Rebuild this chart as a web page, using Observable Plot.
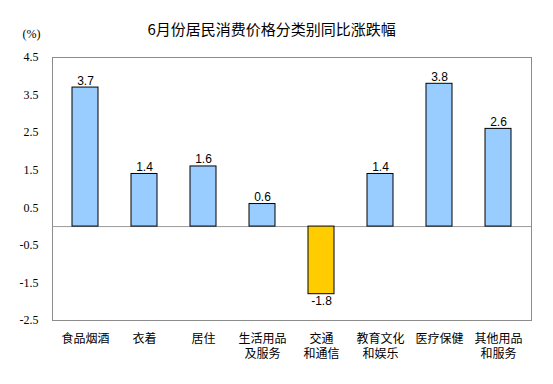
<!DOCTYPE html>
<html>
<head>
<meta charset="utf-8">
<script src="https://cdn.jsdelivr.net/npm/d3@7"></script>
<script src="https://cdn.jsdelivr.net/npm/@observablehq/plot@0.6"></script>
<style>
  html, body { margin: 0; padding: 0; background: #fff; }
</style>
</head>
<body>
<div id="chart"></div>
<script>
const title = "6月份居民消费价格分类别同比涨跌幅";
const unitLabel = "(%)";
const categories = ["食品烟酒", "衣着", "居住", "生活用品\n及服务", "交通\n和通信", "教育文化\n和娱乐", "医疗保健", "其他用品\n和服务"];
const values = [3.7, 1.4, 1.6, 0.6, -1.8, 1.4, 3.8, 2.6];
const yTicks = [4.5, 3.5, 2.5, 1.5, 0.5, -0.5, -1.5, -2.5];

const data = categories.map((c, i) => ({cat: c, value: values[i]}));
const cjk = "'Noto Sans CJK SC', sans-serif";

const chart = Plot.plot({
  width: 553,
  height: 384,
  marginLeft: 52,
  marginRight: 22,
  marginTop: 57,
  marginBottom: 64,
  style: {fontFamily: "'Liberation Sans', Arial, sans-serif", fontSize: "12px", background: "#fff", color: "#000"},
  x: {domain: categories, paddingInner: 0.56, paddingOuter: 0.28, label: null},
  y: {domain: [-2.5, 4.5], label: null},
  marks: [
    Plot.frame({stroke: "#8c8c8c"}),
    Plot.ruleY([0], {stroke: "#9a9a9a"}),
    Plot.barY(data, {
      x: "cat", y: "value",
      fill: d => d.value < 0 ? "#FFCC00" : "#99CCFF",
      stroke: "#000", strokeWidth: 1
    }),
    Plot.text(data.filter(d => d.value >= 0), {
      x: "cat", y: "value", text: d => d.value.toFixed(1),
      lineAnchor: "bottom", dy: -3, fontSize: 12, fill: "#000"
    }),
    Plot.text(data.filter(d => d.value < 0), {
      x: "cat", y: "value", text: d => d.value.toFixed(1),
      lineAnchor: "top", dy: 2, fontSize: 12, fill: "#000"
    }),
    Plot.axisY({
      ticks: yTicks, tickSize: 0, tickPadding: 14,
      tickFormat: d => d.toFixed(1),
      fontFamily: "'Liberation Serif', 'Times New Roman', serif", fontSize: 12, label: null
    }),
    Plot.axisX({
      tickSize: 0, tickPadding: 12, lineHeight: 1.25,
      fontFamily: cjk, fontSize: 12, label: null
    }),
    Plot.text([title], {
      frameAnchor: "top-left", textAnchor: "start", lineAnchor: "middle",
      dx: 95, dy: -27, fontFamily: cjk, fontSize: 15, fill: "#000"
    }),
    Plot.text([unitLabel], {
      frameAnchor: "top-left", textAnchor: "middle", lineAnchor: "middle",
      dx: -21, dy: -23, fontFamily: "'Liberation Serif', 'Times New Roman', serif", fontSize: 12, fill: "#000"
    })
  ]
});

document.getElementById("chart").appendChild(chart);
</script>
</body>
</html>
